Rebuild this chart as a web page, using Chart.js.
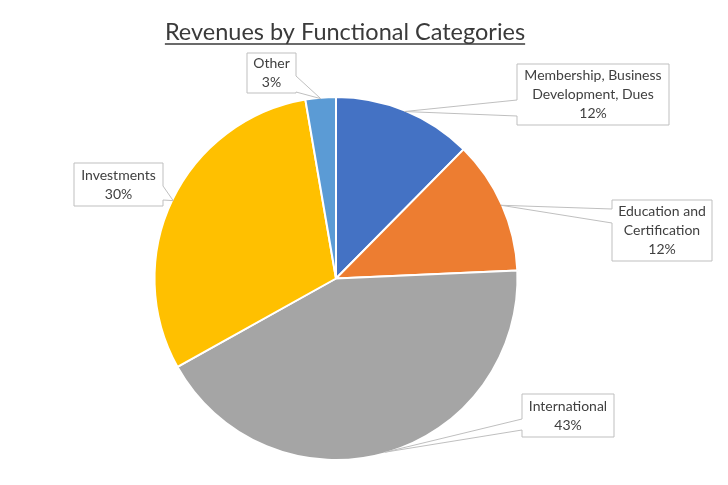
<!DOCTYPE html>
<html>
<head>
<meta charset="utf-8">
<script src="https://cdn.jsdelivr.net/npm/chart.js@4.4.1/dist/chart.umd.min.js"></script>
<style>
  html, body { margin: 0; padding: 0; background: #fff; }
  #wrap { width: 728px; height: 485px; position: relative; }
</style>
</head>
<body>
<div id="wrap"><canvas id="pie"></canvas></div>
<script>
// chart data
const categories = ["Membership, Business Development, Dues", "Education and Certification", "International", "Investments", "Other"];
const calloutLines = [["Membership, Business", "Development, Dues"], ["Education and", "Certification"], ["International"], ["Investments"], ["Other"]];
const shares = [12.4, 11.9, 42.6, 30.4, 2.7];
const sliceColors = ["#4472C4", "#ED7D31", "#A5A5A5", "#FFC000", "#5B9BD5"];

const textColor = "#404040";
const labelFont = "14px Lato, 'Open Sans', sans-serif";

// callout boxes: left, top, right, bottom, side of the wedge and its two ends on that side
const boxes = [
    {l: 517, t: 64, r: 669, b: 125, side: "left", w1: 100, w2: 116},
    {l: 612, t: 200, r: 712, b: 261, side: "left", w1: 209, w2: 223},
    {l: 522, t: 394, r: 614, b: 437, side: "left", w1: 419, w2: 430},
    {l: 74, t: 163, r: 163, b: 206, side: "right", w1: 186, w2: 200},
    {l: 247, t: 53, r: 296, b: 93, side: "right", w1: 76, w2: 92}
];

function pct(i){
    const total = shares.reduce((a, b) => a + b, 0);
    return Math.round(shares[i] / total * 100) + "%";
}

const titlePlugin = {
    id: "underlinedTitle",
    afterDraw(chart){
        const ctx = chart.ctx;
        const text = "Revenues by Functional Categories";
        ctx.save();
        ctx.font = "23.5px Lato, 'Open Sans', sans-serif";
        ctx.fillStyle = "#3a3a3a";
        ctx.textAlign = "center";
        ctx.textBaseline = "alphabetic";
        const cx = 345, y = 40;
        ctx.fillText(text, cx, y);
        const w = ctx.measureText(text).width;
        ctx.strokeStyle = "#3a3a3a";
        ctx.lineWidth = 1.3;
        ctx.beginPath();
        ctx.moveTo(cx - w / 2, y + 4);
        ctx.lineTo(cx + w / 2, y + 4);
        ctx.stroke();
        ctx.restore();
    }
};

const calloutPlugin = {
    id: "callouts",
    afterDatasetsDraw(chart){
        const ctx = chart.ctx;
        const arcs = chart.getDatasetMeta(0).data;
        ctx.save();
        arcs.forEach((arc, i) => {
            const p = arc.getProps(["x", "y", "startAngle", "endAngle", "outerRadius"], true);
            const mid = (p.startAngle + p.endAngle) / 2;
            const ax = p.x + Math.cos(mid) * (p.outerRadius - 1);
            const ay = p.y + Math.sin(mid) * (p.outerRadius - 1);
            const bx = boxes[i];

            ctx.beginPath();
            ctx.moveTo(bx.l, bx.t);
            if(bx.side === "right")
            {
                ctx.lineTo(bx.r, bx.t);
                ctx.lineTo(bx.r, bx.w1);
                ctx.lineTo(ax, ay);
                ctx.lineTo(bx.r, bx.w2);
                ctx.lineTo(bx.r, bx.b);
                ctx.lineTo(bx.l, bx.b);
            }
            else
            {
                ctx.lineTo(bx.r, bx.t);
                ctx.lineTo(bx.r, bx.b);
                ctx.lineTo(bx.l, bx.b);
                ctx.lineTo(bx.l, bx.w2);
                ctx.lineTo(ax, ay);
                ctx.lineTo(bx.l, bx.w1);
            }
            ctx.closePath();
            ctx.fillStyle = "#ffffff";
            ctx.fill();
            ctx.strokeStyle = "#BFBFBF";
            ctx.lineWidth = 1;
            ctx.stroke();

            const lines = calloutLines[i].concat([pct(i)]);
            const lh = 19;
            const cx = (bx.l + bx.r) / 2;
            const cy = (bx.t + bx.b) / 2;
            ctx.font = labelFont;
            ctx.fillStyle = textColor;
            ctx.textAlign = "center";
            ctx.textBaseline = "middle";
            lines.forEach((ln, k) => {
                ctx.fillText(ln, cx, cy + (k - (lines.length - 1) / 2) * lh);
            });
        });
        ctx.restore();
    }
};

let ctx = document.getElementById("pie").getContext("2d");
let myChart = new Chart(ctx, {
    type: "pie",
    data: {
        labels: categories,
        datasets: [{
            data: shares,
            backgroundColor: sliceColors,
            borderColor: "#ffffff",
            borderWidth: 2
        }]
    },
    options: {
        responsive: true,
        maintainAspectRatio: false,
        animation: false,
        layout: {
            padding: {top: 96, bottom: 24, left: 0, right: 56}
        },
        plugins: {
            legend: {display: false},
            title: {display: false},
            tooltip: {enabled: false}
        }
    },
    plugins: [titlePlugin, calloutPlugin]
});
</script>
</body>
</html>
